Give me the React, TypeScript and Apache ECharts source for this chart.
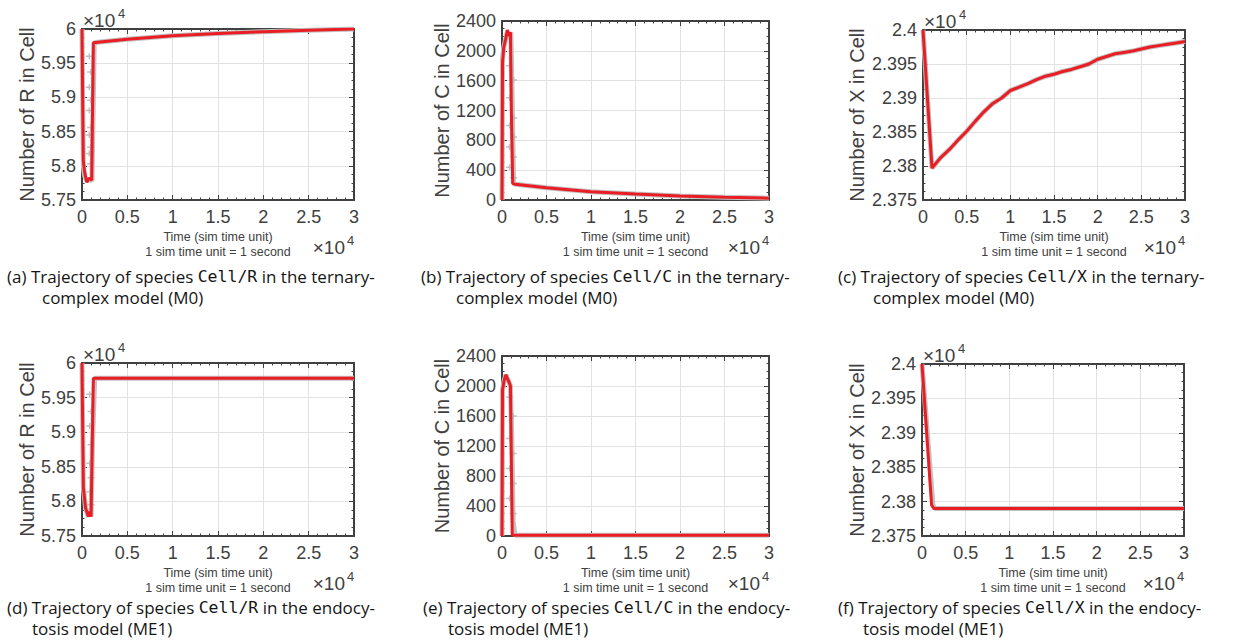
import React, { useEffect, useRef } from "react";
import * as echarts from "echarts";

// ---------- DATA (time in sim time units) ----------
// (a) Cell/R, ternary-complex model (M0)
const tRedA = [0, 140, 300, 520, 800, 1070, 1250, 2000, 5000, 10000, 15000, 20000, 25000, 30000];
const vRedA = [60000, 58080, 57900, 57760, 57820, 57790, 59800, 59810, 59850, 59900, 59935, 59960, 59980, 60000];
const tGreyA = [0, 150, 300, 550, 800, 1100, 1350, 2000, 5000, 10000, 15000, 20000, 25000, 30000];
const vGreyA = [60000, 58000, 57850, 57780, 57800, 57780, 59800, 59810, 59850, 59900, 59935, 59960, 59980, 60000];
const marksA = [[800, 59600], [950, 59370], [800, 59150], [950, 58960], [800, 58810], [950, 58560], [800, 58450], [950, 58270], [800, 58180], [950, 58030]];

// (b) Cell/C, M0
const tRedB = [0, 60, 200, 400, 600, 800, 950, 1050, 1200, 1500, 5000, 10000, 15000, 20000, 25000, 30000];
const vRedB = [0, 1850, 2050, 2150, 2280, 2200, 2250, 1200, 220, 210, 165, 112, 80, 55, 38, 25];
const tGreyB = [0, 60, 200, 400, 600, 800, 1000, 1150, 1300, 1500, 5000, 10000, 15000, 20000, 25000, 30000];
const vGreyB = [0, 1900, 2050, 2150, 2250, 2200, 2250, 1300, 230, 210, 165, 112, 80, 55, 38, 25];
const marksB = [[850, 1800], [1300, 1610], [850, 1370], [1300, 1100], [850, 1000], [1300, 845], [850, 710], [1300, 575], [850, 440], [1300, 300]];

// (c) Cell/X, M0
const tRedC = [0, 1030, 2000, 3000, 4000, 5000, 6000, 7000, 8000, 9000, 10000, 11000, 12000, 13000, 14000, 15000, 16000, 17000, 18000, 19000, 20000, 21000, 22000, 23000, 24000, 25000, 26000, 27000, 28000, 29000, 30000];
const vRedC = [24000, 23797, 23812, 23824, 23838, 23851, 23866, 23880, 23892, 23900, 23911, 23916, 23921, 23927, 23932, 23935, 23939, 23942, 23946, 23950, 23957, 23961, 23965, 23967, 23969, 23972, 23975, 23977, 23979, 23981, 23983];

// (d) Cell/R, endocytosis model (ME1)
const tRedD = [0, 150, 400, 700, 850, 1000, 1250, 30000];
const vRedD = [60000, 58200, 57900, 57780, 57850, 57780, 59780, 59780];
const tGreyD = [0, 150, 400, 700, 850, 1000, 1150, 1400, 30000];
const vGreyD = [60000, 58200, 57900, 57780, 57850, 57780, 58800, 59780, 59780];
const marksD = [[850, 59550], [1000, 59300], [850, 59090], [1000, 58820], [850, 58550], [1000, 58340], [850, 58140], [1000, 57950]];

// (e) Cell/C, ME1
const tRedE = [0, 60, 250, 450, 600, 800, 950, 1050, 1150, 1300, 30000];
const vRedE = [0, 1950, 2080, 2150, 2100, 2050, 2000, 1000, 20, 10, 10];
const tGreyE = [0, 60, 250, 450, 600, 800, 950, 1100, 1250, 1450, 30000];
const vGreyE = [0, 1950, 2080, 2150, 2100, 2050, 2000, 1300, 200, 10, 10];
const marksE = [[850, 1850], [1250, 1600], [850, 1300], [1250, 1100], [850, 900], [1250, 700], [850, 500], [1250, 300]];

// (f) Cell/X, ME1
const tRedF = [0, 1100, 1350, 30000];
const vRedF = [24000, 23795, 23790, 23790];
const tGreyF = [0, 1250, 1500, 30000];
const vGreyF = [24000, 23795, 23790, 23790];

const captions = [
  ["(a) Trajectory of species ", "Cell/R", " in the ternary-", "complex model (M0)"],
  ["(b) Trajectory of species ", "Cell/C", " in the ternary-", "complex model (M0)"],
  ["(c) Trajectory of species ", "Cell/X", " in the ternary-", "complex model (M0)"],
  ["(d) Trajectory of species ", "Cell/R", " in the endocy-", "tosis model (ME1)"],
  ["(e) Trajectory of species ", "Cell/C", " in the endocy-", "tosis model (ME1)"],
  ["(f) Trajectory of species ", "Cell/X", " in the endocy-", "tosis model (ME1)"],
];
const yNames = ["Number of R in Cell", "Number of C in Cell", "Number of X in Cell", "Number of R in Cell", "Number of C in Cell", "Number of X in Cell"];
const xNameLines = ["Time (sim time unit)", "1 sim time unit = 1 second"];

// ---------- LAYOUT ----------
const pair = (t: number[], v: number[]) => t.map((x, i) => [x, v[i]]);

const panels = [
  { grid: { left: 82, top: 29, width: 272, height: 171 }, yMin: 57500, yMax: 60000, yInt: 500, sci: true, gap: 45, red: pair(tRedA, vRedA), grey: pair(tGreyA, vGreyA), marks: marksA, capX: 7, capY: 276, indent: 35 },
  { grid: { left: 502, top: 21, width: 267, height: 179 }, yMin: 0, yMax: 2400, yInt: 400, sci: false, gap: 50, red: pair(tRedB, vRedB), grey: pair(tGreyB, vGreyB), marks: marksB, capX: 421, capY: 276, indent: 35 },
  { grid: { left: 923, top: 30, width: 262, height: 170 }, yMin: 23750, yMax: 24000, yInt: 50, sci: true, gap: 56, red: pair(tRedC, vRedC), grey: pair(tRedC, vRedC), marks: [], capX: 838, capY: 276, indent: 35 },
  { grid: { left: 82, top: 363, width: 272, height: 173 }, yMin: 57500, yMax: 60000, yInt: 500, sci: true, gap: 45, red: pair(tRedD, vRedD), grey: pair(tGreyD, vGreyD), marks: marksD, capX: 7, capY: 607, indent: 25 },
  { grid: { left: 502, top: 356, width: 267, height: 180 }, yMin: 0, yMax: 2400, yInt: 400, sci: false, gap: 50, red: pair(tRedE, vRedE), grey: pair(tGreyE, vGreyE), marks: marksE, capX: 423, capY: 607, indent: 25 },
  { grid: { left: 922, top: 364, width: 262, height: 172 }, yMin: 23750, yMax: 24000, yInt: 50, sci: true, gap: 55, red: pair(tRedF, vRedF), grey: pair(tGreyF, vGreyF), marks: [], capX: 838, capY: 607, indent: 25 },
];

const TICK_FONT = "'Liberation Sans', Arial, sans-serif";
const CAP_FONT = "'Open Sans', Lato, sans-serif";
const MONO_FONT = "'DejaVu Sans Mono', 'Liberation Mono', monospace";
const AX = "#404040";
const RED = "#ea1d25";
const GREY = "#c2c2c2";

export default function App() {
  const ref = useRef<HTMLDivElement>(null);
  useEffect(() => {
    if (!ref.current) return;
    const chart = echarts.init(ref.current, undefined, { renderer: "svg" });
    const grids: any[] = [];
    const xAxes: any[] = [];
    const yAxes: any[] = [];
    const series: any[] = [];
    const graphic: any[] = [];

    const axisLine = { show: true, onZero: false, lineStyle: { color: AX, width: 2 } };
    const tick = { show: true, inside: true, length: 5, lineStyle: { color: AX, width: 1 } };
    const minor = { show: true, splitNumber: 5, length: 2.5, lineStyle: { color: AX, width: 1 } };

    panels.forEach((p, i) => {
      const g = p.grid;
      grids.push({ left: g.left, top: g.top, width: g.width, height: g.height, show: false, containLabel: false, outerBoundsMode: "none" });
      const fmtY = (v: number) => (p.sci ? String(+(v / 1e4).toFixed(4)) : String(v));
      xAxes.push({
        type: "value", gridIndex: i, position: "bottom", min: 0, max: 30000, interval: 5000,
        axisLine, axisTick: tick, minorTick: minor,
        axisLabel: { show: true, margin: 8, fontSize: 18, fontFamily: TICK_FONT, color: AX, formatter: (v: number) => String(+(v / 1e4).toFixed(2)) },
        splitLine: { show: true, showMinLine: false, showMaxLine: false, lineStyle: { color: "#e2e2e2", width: 1 } },
        name: xNameLines.join("\n"), nameLocation: "middle", nameGap: 29,
        nameTextStyle: { fontSize: 12.5, lineHeight: 15, fontFamily: TICK_FONT, color: AX, verticalAlign: "top" },
      });
      yAxes.push({
        type: "value", gridIndex: i, position: "left", min: p.yMin, max: p.yMax, interval: p.yInt,
        axisLine, axisTick: tick, minorTick: { ...minor, splitNumber: 4 },
        axisLabel: { show: true, margin: 6, fontSize: 18, fontFamily: TICK_FONT, color: AX, formatter: fmtY },
        splitLine: { show: true, showMinLine: false, showMaxLine: false, lineStyle: { color: "#e2e2e2", width: 1 } },
        name: yNames[i], nameLocation: "middle", nameGap: p.gap, nameRotate: 90,
        nameTextStyle: { fontSize: 20, fontFamily: TICK_FONT, color: AX },
      });
      series.push({
        type: "line", xAxisIndex: i, yAxisIndex: i, data: p.grey, showSymbol: false, symbol: "none",
        lineStyle: { color: GREY, width: 5 }, z: 2, silent: true,
      });
      if (p.marks.length) {
        series.push({
          type: "scatter", xAxisIndex: i, yAxisIndex: i, data: p.marks,
          symbol: "path://M0,4H10V6H0Z M4,1H6V9H4Z", symbolSize: [7, 6],
          itemStyle: { color: "#b0b0b0" }, z: 3, silent: true,
        });
      }
      series.push({
        type: "line", xAxisIndex: i, yAxisIndex: i, data: p.red, showSymbol: false, symbol: "none",
        lineStyle: { color: RED, width: 3 }, z: 4, silent: true,
      });

      const R = g.left + g.width;
      const B = g.top + g.height;
      graphic.push({ type: "text", x: R - 9, y: B + 47, style: { text: "×10", fontSize: 19, fontFamily: TICK_FONT, fill: AX, align: "right", verticalAlign: "middle" } });
      graphic.push({ type: "text", x: R - 7, y: B + 40, style: { text: "4", fontSize: 13, fontFamily: TICK_FONT, fill: AX, align: "left", verticalAlign: "middle" } });
      if (p.sci) {
        graphic.push({ type: "text", x: g.left + 1, y: g.top - 9, style: { text: "×10", fontSize: 19, fontFamily: TICK_FONT, fill: AX, align: "left", verticalAlign: "middle" } });
        graphic.push({ type: "text", x: g.left + 36, y: g.top - 16, style: { text: "4", fontSize: 13, fontFamily: TICK_FONT, fill: AX, align: "left", verticalAlign: "middle" } });
      }
      const c = captions[i];
      graphic.push({
        type: "text", x: p.capX, y: p.capY,
        style: {
          text: `{n|${c[0]}}{m|${c[1]}}{n|${c[2]}}`,
          verticalAlign: "middle", align: "left",
          rich: {
            n: { fontSize: 17, fontFamily: CAP_FONT, fill: "#151515" },
            m: { fontSize: 16.5, fontFamily: MONO_FONT, fill: "#151515" },
          },
        },
      });
      graphic.push({
        type: "text", x: p.capX + p.indent, y: p.capY + 21,
        style: { text: c[3], fontSize: 17, fontFamily: CAP_FONT, fill: "#151515", verticalAlign: "middle", align: "left" },
      });
    });

    panels.forEach((p, i) => {
      xAxes.push({
        type: "value", gridIndex: i, position: "top", min: 0, max: 30000, interval: 5000,
        axisLine, axisTick: tick, minorTick: minor, axisLabel: { show: false }, splitLine: { show: false },
      });
      yAxes.push({
        type: "value", gridIndex: i, position: "right", min: p.yMin, max: p.yMax, interval: p.yInt,
        axisLine, axisTick: tick, minorTick: { ...minor, splitNumber: 4 }, axisLabel: { show: false }, splitLine: { show: false },
      });
    });

    chart.setOption({
      animation: false,
      backgroundColor: "#ffffff",
      grid: grids,
      xAxis: xAxes,
      yAxis: yAxes,
      series,
      graphic,
    });
    return () => chart.dispose();
  }, []);
  return <div ref={ref} style={{ position: "fixed", left: 0, top: 0, width: 1243, height: 643 }} />;
}
